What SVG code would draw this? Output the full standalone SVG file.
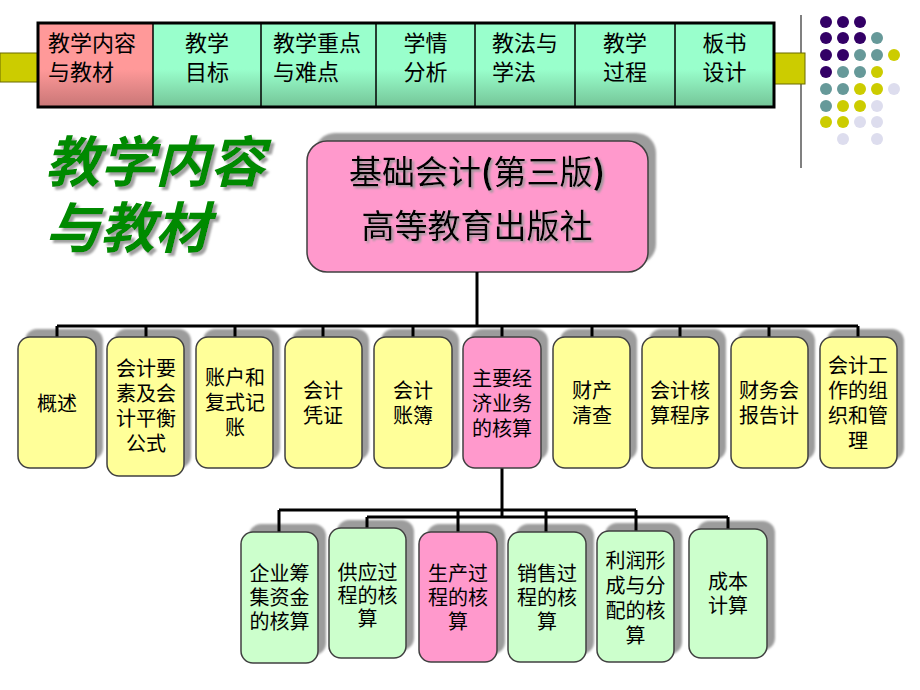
<svg xmlns="http://www.w3.org/2000/svg" width="920" height="690" viewBox="0 0 920 690">
<defs>
<linearGradient id="gGreen" x1="0" y1="0" x2="0" y2="1">
<stop offset="0" stop-color="#99FFCC"/><stop offset="0.55" stop-color="#99FFCC"/><stop offset="1" stop-color="#74C497"/>
</linearGradient>
<linearGradient id="gPink" x1="0" y1="0" x2="0" y2="1">
<stop offset="0" stop-color="#FF9999"/><stop offset="0.55" stop-color="#FF9999"/><stop offset="1" stop-color="#C87676"/>
</linearGradient>
<filter id="soft" x="-10%" y="-10%" width="120%" height="120%"><feGaussianBlur stdDeviation="0.8"/></filter>
<filter id="tshadow" x="-10%" y="-10%" width="130%" height="130%">
<feOffset in="SourceAlpha" dx="2" dy="2" result="o"/><feGaussianBlur in="o" stdDeviation="0.8" result="b"/>
<feFlood flood-color="#999999"/><feComposite in2="b" operator="in" result="s"/>
<feMerge><feMergeNode in="s"/><feMergeNode in="SourceGraphic"/></feMerge>
</filter>
<filter id="tshadow2" x="-10%" y="-10%" width="130%" height="130%">
<feOffset in="SourceAlpha" dx="3" dy="3" result="o"/><feGaussianBlur in="o" stdDeviation="1" result="b"/>
<feFlood flood-color="#A0A0A0"/><feComposite in2="b" operator="in" result="s"/>
<feMerge><feMergeNode in="s"/><feMergeNode in="SourceGraphic"/></feMerge>
</filter>
</defs>
<style>
.t{font-family:"Noto Sans CJK SC","Noto Sans",sans-serif;fill:#000;}
.bar{font-size:22px;}
.box{font-size:20px;text-anchor:middle;}
.mid{text-anchor:middle;}
.sh{fill:#9C9C9C;filter:url(#soft);}
.nb{stroke:#404040;stroke-width:1.5;}
.y{fill:#FFFF99;}
.p{fill:#FF99CC;}
.g{fill:#CCFFCC;}
.cn{stroke:#000;stroke-width:3;fill:none;}
.dot{stroke:none;}
</style>
<rect width="920" height="690" fill="#FFFFFF"/>

<!-- decorative -->
<line x1="801" y1="15" x2="801" y2="168" stroke="#808080" stroke-width="2"/>
<g id="dots">
<circle cx="826" cy="22" r="6" fill="#330066"/><circle cx="843" cy="22" r="6" fill="#330066"/><circle cx="860" cy="22" r="6" fill="#330066"/>
<circle cx="826" cy="38" r="6" fill="#330066"/><circle cx="843" cy="38" r="6" fill="#330066"/><circle cx="860" cy="38" r="6" fill="#330066"/><circle cx="877" cy="38" r="6" fill="#669999"/>
<circle cx="826" cy="55" r="6" fill="#330066"/><circle cx="843" cy="55" r="6" fill="#330066"/><circle cx="860" cy="55" r="6" fill="#669999"/><circle cx="877" cy="55" r="6" fill="#669999"/><circle cx="894" cy="55" r="6" fill="#CCCC00"/>
<circle cx="826" cy="72" r="6" fill="#330066"/><circle cx="843" cy="72" r="6" fill="#669999"/><circle cx="860" cy="72" r="6" fill="#669999"/><circle cx="877" cy="72" r="6" fill="#CCCC00"/>
<circle cx="826" cy="89" r="6" fill="#669999"/><circle cx="843" cy="89" r="6" fill="#669999"/><circle cx="860" cy="89" r="6" fill="#CCCC00"/><circle cx="877" cy="89" r="6" fill="#CCCC00"/><circle cx="894" cy="89" r="6" fill="#DDDDEE"/>
<circle cx="826" cy="106" r="6" fill="#669999"/><circle cx="843" cy="106" r="6" fill="#CCCC00"/><circle cx="860" cy="106" r="6" fill="#CCCC00"/><circle cx="877" cy="106" r="6" fill="#DDDDEE"/>
<circle cx="826" cy="122" r="6" fill="#CCCC00"/><circle cx="843" cy="122" r="6" fill="#CCCC00"/><circle cx="860" cy="122" r="6" fill="#DDDDEE"/><circle cx="877" cy="122" r="6" fill="#DDDDEE"/>
<circle cx="843" cy="139" r="6" fill="#DDDDEE"/><circle cx="877" cy="139" r="6" fill="#DDDDEE"/>
</g>

<!-- top navigation bar -->
<g id="nav">
<rect x="0" y="53" width="38" height="29" fill="#CCCC00" stroke="#6B6B00" stroke-width="1"/>
<rect x="774" y="53" width="31" height="31" fill="#CCCC00" stroke="#6B6B00" stroke-width="1"/>
<rect x="38" y="23" width="115" height="84" fill="url(#gPink)"/>
<rect x="153" y="23" width="621" height="84" fill="url(#gGreen)"/>
<g stroke="#000" stroke-width="1.5">
<line x1="153" y1="23" x2="153" y2="107"/><line x1="261" y1="23" x2="261" y2="107"/><line x1="376" y1="23" x2="376" y2="107"/>
<line x1="475" y1="23" x2="475" y2="107"/><line x1="575" y1="23" x2="575" y2="107"/><line x1="675" y1="23" x2="675" y2="107"/>
</g>
<rect x="38" y="23" width="736" height="84" fill="none" stroke="#000" stroke-width="3"/>
<g class="t bar">
<text x="48" y="51">教学内容</text><text x="48" y="80">与教材</text>
<text class="mid" x="207" y="51">教学</text><text class="mid" x="207" y="80">目标</text>
<text x="273" y="51">教学重点</text><text x="273" y="80">与难点</text>
<text class="mid" x="425.5" y="51">学情</text><text class="mid" x="425.5" y="80">分析</text>
<text x="492" y="51">教法与</text><text x="492" y="80">学法</text>
<text class="mid" x="625" y="51">教学</text><text class="mid" x="625" y="80">过程</text>
<text class="mid" x="724.5" y="51">板书</text><text class="mid" x="724.5" y="80">设计</text>
</g>
</g>

<!-- title -->
<g id="title" filter="url(#tshadow2)">
<text class="t" x="45" y="182" style="font-size:55px;font-weight:bold;font-style:italic;fill:#008A00;">教学内容</text>
<text class="t" x="45" y="248" style="font-size:55px;font-weight:bold;font-style:italic;fill:#008A00;">与教材</text>
</g>

<!-- root node -->
<g id="root">
<rect class="sh" x="315" y="133" width="341" height="131" rx="20"/>
<rect x="307" y="141" width="341" height="131" rx="20" fill="#FF99CC" stroke="#404040" stroke-width="1.5"/>
<g filter="url(#tshadow)">
<text class="t mid" x="477" y="184" style="font-size:33px;">基础会计<tspan style="font-weight:bold">(</tspan>第三版<tspan style="font-weight:bold">)</tspan></text>
<text class="t mid" x="477" y="238" style="font-size:33px;">高等教育出版社</text>
</g>
</g>

<!-- level 2 shadows -->
<g id="shadows2">
<rect class="sh" x="25" y="329" width="78" height="131" rx="12"/>
<rect class="sh" x="114" y="329" width="77" height="139" rx="12"/>
<rect class="sh" x="203" y="329" width="77" height="131" rx="12"/>
<rect class="sh" x="292" y="329" width="77" height="131" rx="12"/>
<rect class="sh" x="381" y="329" width="78" height="131" rx="12"/>
<rect class="sh" x="470" y="329" width="78" height="131" rx="12"/>
<rect class="sh" x="560" y="329" width="77" height="131" rx="12"/>
<rect class="sh" x="649" y="329" width="77" height="131" rx="12"/>
<rect class="sh" x="738" y="329" width="77" height="131" rx="12"/>
<rect class="sh" x="827" y="329" width="77" height="131" rx="12"/>
</g>
<!-- level 3 shadows -->
<g id="shadows3">
<rect class="sh" x="249" y="524" width="77" height="131" rx="12"/>
<rect class="sh" x="337" y="520" width="77" height="130" rx="12"/>
<rect class="sh" x="427" y="524" width="78" height="130" rx="12"/>
<rect class="sh" x="516" y="524" width="78" height="130" rx="12"/>
<rect class="sh" x="605" y="523" width="77" height="131" rx="12"/>
<rect class="sh" x="697" y="521" width="78" height="129" rx="12"/>
</g>

<!-- connectors -->
<g id="connectors" class="cn">
<path d="M477 272 V326"/>
<path d="M57 326 H858"/>
<path d="M57 326 V337 M146 326 V337 M235 326 V337 M323 326 V337 M413 326 V337 M502 326 V337 M592 326 V337 M680 326 V337 M769 326 V337 M858 326 V337"/>
<path d="M502 468 V517"/>
<path d="M279 510 H636"/>
<path d="M367 517 H728"/>
<path d="M279 510 V532 M458 510 V532 M546 510 V532 M636 510 V532"/>
<path d="M367 517 V528 M728 517 V529"/>
</g>

<!-- level 2 nodes -->
<g id="n-gaishu"><rect class="nb y" x="18" y="337" width="78" height="131" rx="12"/>
<text class="t box" x="57" y="411">概述</text></g>
<g id="n-yaosu"><rect class="nb y" x="107" y="337" width="77" height="139" rx="12"/>
<text class="t box" x="146" y="376">会计要</text><text class="t box" x="146" y="401">素及会</text><text class="t box" x="146" y="426">计平衡</text><text class="t box" x="146" y="451">公式</text></g>
<g id="n-zhanghu"><rect class="nb y" x="196" y="337" width="77" height="131" rx="12"/>
<text class="t box" x="235" y="385">账户和</text><text class="t box" x="235" y="410">复式记</text><text class="t box" x="235" y="435">账</text></g>
<g id="n-pingzheng"><rect class="nb y" x="285" y="337" width="77" height="131" rx="12"/>
<text class="t box" x="323" y="398">会计</text><text class="t box" x="323" y="423">凭证</text></g>
<g id="n-zhangbu"><rect class="nb y" x="374" y="337" width="78" height="131" rx="12"/>
<text class="t box" x="413" y="398">会计</text><text class="t box" x="413" y="423">账簿</text></g>
<g id="n-hesuan"><rect class="nb p" x="463" y="337" width="78" height="131" rx="12"/>
<text class="t box" x="502" y="386">主要经</text><text class="t box" x="502" y="411">济业务</text><text class="t box" x="502" y="436">的核算</text></g>
<g id="n-caichan"><rect class="nb y" x="553" y="337" width="77" height="131" rx="12"/>
<text class="t box" x="592" y="398">财产</text><text class="t box" x="592" y="423">清查</text></g>
<g id="n-chengxu"><rect class="nb y" x="642" y="337" width="77" height="131" rx="12"/>
<text class="t box" x="680" y="398">会计核</text><text class="t box" x="680" y="423">算程序</text></g>
<g id="n-baogao"><rect class="nb y" x="731" y="337" width="77" height="131" rx="12"/>
<text class="t box" x="769" y="398">财务会</text><text class="t box" x="769" y="423">报告计</text></g>
<g id="n-guanli"><rect class="nb y" x="820" y="337" width="77" height="131" rx="12"/>
<text class="t box" x="858" y="373">会计工</text><text class="t box" x="858" y="398">作的组</text><text class="t box" x="858" y="423">织和管</text><text class="t box" x="858" y="448">理</text></g>

<!-- level 3 nodes -->
<g id="n-chouji"><rect class="nb g" x="241" y="532" width="77" height="131" rx="12"/>
<text class="t box" x="279.5" y="581">企业筹</text><text class="t box" x="279.5" y="605">集资金</text><text class="t box" x="279.5" y="629">的核算</text></g>
<g id="n-gongying"><rect class="nb g" x="329" y="528" width="77" height="130" rx="12"/>
<text class="t box" x="367.5" y="580">供应过</text><text class="t box" x="367.5" y="603">程的核</text><text class="t box" x="367.5" y="626">算</text></g>
<g id="n-shengchan"><rect class="nb p" x="419" y="532" width="78" height="130" rx="12"/>
<text class="t box" x="458" y="581">生产过</text><text class="t box" x="458" y="605">程的核</text><text class="t box" x="458" y="629">算</text></g>
<g id="n-xiaoshou"><rect class="nb g" x="508" y="532" width="78" height="130" rx="12"/>
<text class="t box" x="547" y="581">销售过</text><text class="t box" x="547" y="605">程的核</text><text class="t box" x="547" y="629">算</text></g>
<g id="n-lirun"><rect class="nb g" x="597" y="531" width="77" height="131" rx="12"/>
<text class="t box" x="635.5" y="568">利润形</text><text class="t box" x="635.5" y="593">成与分</text><text class="t box" x="635.5" y="618">配的核</text><text class="t box" x="635.5" y="643">算</text></g>
<g id="n-chengben"><rect class="nb g" x="689" y="529" width="78" height="129" rx="12"/>
<text class="t box" x="728" y="589">成本</text><text class="t box" x="728" y="613">计算</text></g>
</svg>
